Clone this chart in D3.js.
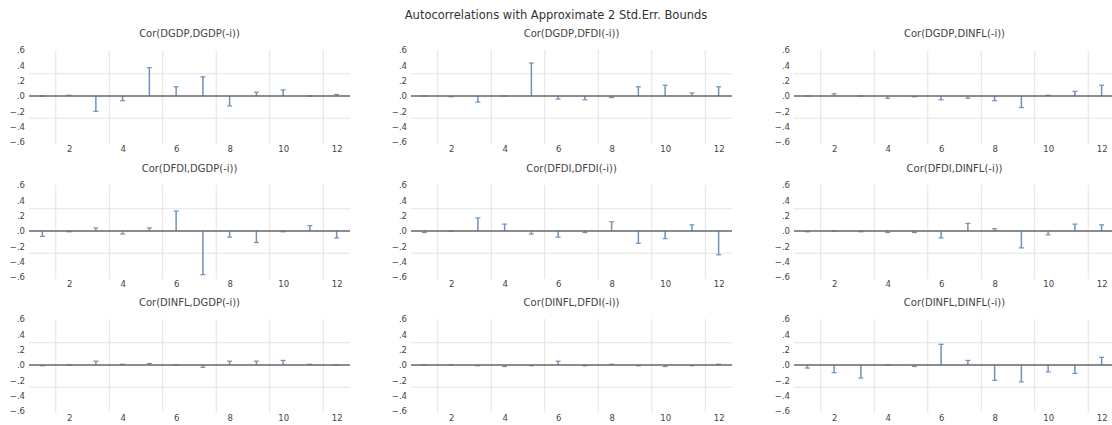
<!DOCTYPE html>
<html>
<head>
<meta charset="utf-8">
<script src="https://cdn.jsdelivr.net/npm/d3@7"></script>
<style>
  body { margin: 0; background: #ffffff; }
  svg text { font-family: "DejaVu Sans", sans-serif; }
</style>
</head>
<body>
<div id="graph"></div>
<script>
// lags on the x axis, ticks and the 2 std.err. band
const lags = [1, 2, 3, 4, 5, 6, 7, 8, 9, 10, 11, 12];
const xTicks = [2, 4, 6, 8, 10, 12];
const yTicks = [-0.6, -0.4, -0.2, 0, 0.2, 0.4, 0.6];
const bound = 0.29;

const mainTitle = 'Autocorrelations with Approximate 2 Std.Err. Bounds';
const panelTitles = [
  'Cor(DGDP,DGDP(-i))', 'Cor(DGDP,DFDI(-i))', 'Cor(DGDP,DINFL(-i))',
  'Cor(DFDI,DGDP(-i))', 'Cor(DFDI,DFDI(-i))', 'Cor(DFDI,DINFL(-i))',
  'Cor(DINFL,DGDP(-i))', 'Cor(DINFL,DFDI(-i))', 'Cor(DINFL,DINFL(-i))'
];

// correlations, lag 1..12
const cor_dgdp_dgdp   = [0.00, 0.01, -0.20, -0.06, 0.37, 0.12, 0.25, -0.13, 0.05, 0.08, 0.00, 0.02];
const cor_dgdp_dfdi   = [0.00, -0.01, -0.08, 0.00, 0.43, -0.04, -0.05, -0.02, 0.12, 0.14, 0.04, 0.12];
const cor_dgdp_dinfl  = [0.00, 0.03, 0.00, -0.03, -0.01, -0.05, -0.03, -0.06, -0.15, 0.01, 0.06, 0.14];
const cor_dfdi_dgdp   = [-0.07, -0.01, 0.04, -0.04, 0.04, 0.26, -0.57, -0.08, -0.15, -0.01, 0.07, -0.09];
const cor_dfdi_dfdi   = [-0.02, 0.00, 0.17, 0.09, -0.04, -0.08, -0.02, 0.12, -0.16, -0.10, 0.08, -0.31];
const cor_dfdi_dinfl  = [-0.01, 0.00, -0.01, -0.02, -0.02, -0.09, 0.10, 0.03, -0.22, -0.05, 0.09, 0.08];
const cor_dinfl_dgdp  = [-0.01, 0.00, 0.05, 0.01, 0.02, 0.00, -0.03, 0.05, 0.05, 0.06, 0.01, 0.00];
const cor_dinfl_dfdi  = [0.00, 0.00, -0.01, -0.02, -0.01, 0.05, -0.01, 0.01, -0.01, -0.02, -0.01, 0.01];
const cor_dinfl_dinfl = [-0.04, -0.10, -0.17, 0.00, -0.02, 0.27, 0.06, -0.20, -0.22, -0.09, -0.11, 0.10];

const panelData = [
  cor_dgdp_dgdp, cor_dgdp_dfdi, cor_dgdp_dinfl,
  cor_dfdi_dgdp, cor_dfdi_dfdi, cor_dfdi_dinfl,
  cor_dinfl_dgdp, cor_dinfl_dfdi, cor_dinfl_dinfl
];

// layout
const width = 1112, height = 425;
const colLeft = [29, 411, 794];   // left edge of each plot area
const rowZero = [96, 231, 365];   // y of the zero line in each row
const plotW = 321, halfH = 46;

const stemColor = '#6f93b9';
const gridColor = '#e3e3e3';
const textColor = '#444';

let svg = d3.select('#graph')
  .append('svg')
  .attr('width', width)
  .attr('height', height);

svg.append('text')
  .attr('x', width / 2)
  .attr('y', 19)
  .attr('text-anchor', 'middle')
  .style('font-size', '11.5px')
  .style('fill', '#333')
  .text(mainTitle);

const fmt = d => d === 0 ? '.0' : d3.format('.1f')(d).replace('0.', '.');

panelData.forEach((values, k) => {
  const col = k % 3, row = Math.floor(k / 3);
  const g = svg.append('g')
    .attr('transform', `translate(${colLeft[col]}, ${rowZero[row] - halfH})`);

  const x = d3.scaleLinear().domain([0.5, 12.5]).range([0, plotW]);
  const y = d3.scaleLinear().domain([-0.6, 0.6]).range([2 * halfH, 0]);

  // title
  g.append('text')
    .attr('x', plotW / 2)
    .attr('y', -13)
    .attr('text-anchor', 'middle')
    .style('font-size', '10px')
    .style('fill', textColor)
    .text(panelTitles[k]);

  // vertical grid between every second lag
  g.selectAll('.vgrid')
    .data(xTicks)
    .enter()
    .append('line')
    .attr('x1', d => x(d - 0.5)).attr('x2', d => x(d - 0.5))
    .attr('y1', 0).attr('y2', 2 * halfH + 2)
    .attr('stroke', gridColor)
    .attr('stroke-width', 1);

  // 2 std.err. bounds
  g.selectAll('.band')
    .data([bound, -bound])
    .enter()
    .append('line')
    .attr('x1', 0).attr('x2', plotW)
    .attr('y1', d => y(d)).attr('y2', d => y(d))
    .attr('stroke', gridColor)
    .attr('stroke-width', 1);

  // y axis labels, no domain line
  const yAxis = g.append('g')
    .call(d3.axisLeft(y).tickValues(yTicks).tickFormat(fmt).tickSize(0).tickPadding(4));
  yAxis.select('.domain').remove();
  yAxis.selectAll('text')
    .style('font-size', '8.5px')
    .style('font-family', '"DejaVu Sans", sans-serif')
    .style('fill', textColor);

  // x axis labels below the plot
  const xAxis = g.append('g')
    .attr('transform', `translate(0, ${2 * halfH})`)
    .call(d3.axisBottom(x).tickValues(xTicks).tickSize(0).tickPadding(4));
  xAxis.select('.domain').remove();
  xAxis.selectAll('text')
    .style('font-size', '8.5px')
    .style('font-family', '"DejaVu Sans", sans-serif')
    .style('fill', textColor);

  // stems with a small cap at the end
  const bars = g.selectAll('.stem')
    .data(lags.map((l, i) => ({lag: l, v: values[i]})))
    .enter()
    .append('g');

  bars.append('line')
    .attr('x1', d => x(d.lag)).attr('x2', d => x(d.lag))
    .attr('y1', y(0)).attr('y2', d => y(d.v))
    .attr('stroke', stemColor)
    .attr('stroke-width', 1.5);

  bars.append('line')
    .attr('x1', d => x(d.lag) - 2.5).attr('x2', d => x(d.lag) + 2.5)
    .attr('y1', d => y(d.v)).attr('y2', d => y(d.v))
    .attr('stroke', stemColor)
    .attr('stroke-width', 1.2);

  // zero line on top
  g.append('line')
    .attr('x1', 0).attr('x2', plotW)
    .attr('y1', y(0)).attr('y2', y(0))
    .attr('stroke', '#666')
    .attr('stroke-width', 1.5);
});
</script>
</body>
</html>
